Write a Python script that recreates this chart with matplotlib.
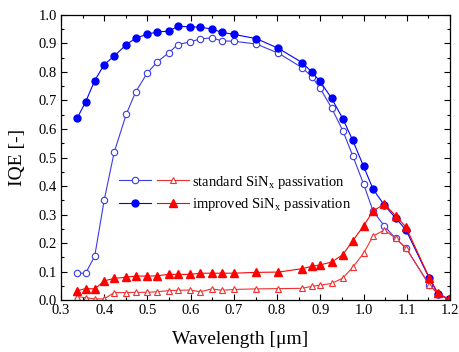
import matplotlib
matplotlib.use("Agg")
import matplotlib.pyplot as plt
from matplotlib.legend_handler import HandlerTuple
from matplotlib.ticker import MultipleLocator

plt.rcParams['font.family'] = ['Liberation Serif', 'DejaVu Serif']
plt.rcParams['mathtext.fontset'] = 'custom'
plt.rcParams['mathtext.rm'] = 'Liberation Serif'
plt.rcParams['mathtext.it'] = 'Liberation Serif:italic'

# wavelength [um]
wavelength = [0.338, 0.357, 0.378, 0.400, 0.423, 0.451, 0.473, 0.499, 0.523, 0.549,
              0.570, 0.599, 0.622, 0.649, 0.672, 0.700, 0.752, 0.803, 0.858, 0.880,
              0.899, 0.926, 0.952, 0.975, 1.000, 1.022, 1.048, 1.074, 1.098, 1.152,
              1.172, 1.198]

# IQE, front side (blue) and rear side (red)
std_front = [0.094, 0.094, 0.154, 0.351, 0.518, 0.652, 0.731, 0.795, 0.836, 0.867,
             0.896, 0.906, 0.916, 0.920, 0.909, 0.908, 0.898, 0.866, 0.815, 0.784,
             0.744, 0.674, 0.594, 0.506, 0.407, 0.312, 0.260, 0.216, 0.183, 0.053,
             0.022, 0.002]
imp_front = [0.640, 0.695, 0.770, 0.826, 0.856, 0.896, 0.919, 0.932, 0.941, 0.943,
             0.960, 0.959, 0.957, 0.951, 0.939, 0.932, 0.917, 0.883, 0.833, 0.800,
             0.768, 0.708, 0.636, 0.560, 0.469, 0.389, 0.333, 0.288, 0.246, 0.076,
             0.022, 0.002]
std_rear = [0.012, 0.008, 0.004, 0.004, 0.026, 0.026, 0.027, 0.027, 0.029, 0.033,
            0.034, 0.035, 0.029, 0.039, 0.034, 0.037, 0.039, 0.040, 0.041, 0.048,
            0.052, 0.058, 0.077, 0.115, 0.164, 0.224, 0.246, 0.217, 0.182, 0.054,
            0.021, 0.002]
imp_rear = [0.033, 0.040, 0.039, 0.067, 0.076, 0.080, 0.084, 0.084, 0.085, 0.090,
            0.090, 0.090, 0.094, 0.094, 0.094, 0.094, 0.097, 0.098, 0.110, 0.118,
            0.123, 0.133, 0.159, 0.208, 0.260, 0.312, 0.337, 0.296, 0.256, 0.078,
            0.024, 0.002]

blue = '#0000ff'
lblue = '#3a3ae8'
red = '#ff0000'
lred = '#f03030'

fig = plt.figure(figsize=(4.6, 3.52), dpi=100)
ax = fig.add_axes([0.1326, 0.1477, 0.8457, 0.8097])

l1, = ax.plot(wavelength, std_front, '-o', color=lblue, lw=0.8, ms=4.6,
              mfc='white', mec=lblue, mew=0.8)
l2, = ax.plot(wavelength, imp_front, '-o', color=blue, lw=0.8, ms=5.0,
              mfc=blue, mec=blue)
l3, = ax.plot(wavelength, std_rear, '-^', color=lred, lw=0.8, ms=5.0,
              mfc='white', mec=lred, mew=0.8)
l4, = ax.plot(wavelength, imp_rear, '-^', color=red, lw=0.8, ms=5.3,
              mfc=red, mec=red)

ax.set_xlim(0.3, 1.2)
ax.set_ylim(0.0, 1.0)
ax.xaxis.set_major_locator(MultipleLocator(0.1))
ax.xaxis.set_minor_locator(MultipleLocator(0.05))
ax.yaxis.set_major_locator(MultipleLocator(0.1))
ax.yaxis.set_minor_locator(MultipleLocator(0.05))
ax.xaxis.set_major_formatter(matplotlib.ticker.FormatStrFormatter('%.1f'))
ax.yaxis.set_major_formatter(matplotlib.ticker.FormatStrFormatter('%.1f'))
ax.tick_params(which='both', direction='in', top=True, right=True, width=0.8,
               labelsize=10.5, pad=3)
ax.tick_params(which='major', length=4)
ax.tick_params(which='minor', length=2.5)
for s in ax.spines.values():
    s.set_linewidth(0.9)

ax.set_xlabel('Wavelength [\u03bcm]', fontsize=14)
ax.set_ylabel('IQE [-]', fontsize=14)
ax.xaxis.set_label_coords(0.46, -0.11)
ax.yaxis.set_label_coords(-0.09, 0.5)

ax.legend([(l1, l3), (l2, l4)],
          ['standard SiN$_\\mathrm{x}$ passivation',
           'improved SiN$_\\mathrm{x}$ passivation'],
          handler_map={tuple: HandlerTuple(ndivide=None, pad=0.4)},
          handlelength=4.8, frameon=False, fontsize=10.5,
          loc='upper left', bbox_to_anchor=(0.135, 0.464),
          handletextpad=0.2, labelspacing=0.35, borderaxespad=0)

fig.savefig('out.png', dpi=100)
